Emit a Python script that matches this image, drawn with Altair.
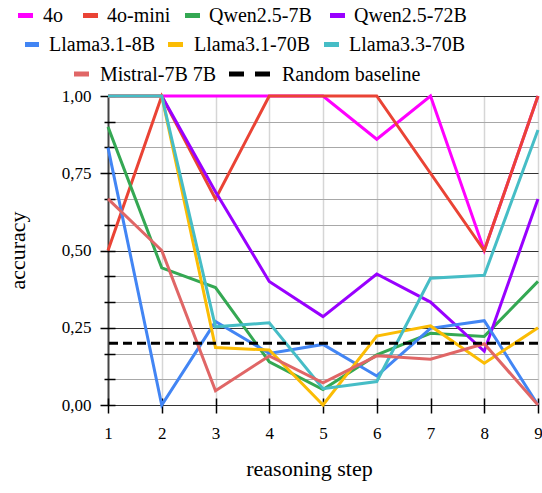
import altair as alt
import pandas as pd

steps = [1, 2, 3, 4, 5, 6, 7, 8, 9]

models = ["4o", "4o-mini", "Qwen2.5-7B", "Qwen2.5-72B",
          "Llama3.1-8B", "Llama3.1-70B", "Llama3.3-70B", "Mistral-7B 7B"]
colors = ["#FF00FF", "#EA4335", "#34A853", "#9900FF",
          "#4285F4", "#FBBC04", "#46BDC6", "#E06666"]

acc_4o = [1.0, 1.0, 1.0, 1.0, 1.0, 0.86, 1.0, 0.5, 1.0]
acc_4o_mini = [0.5, 1.0, 0.667, 1.0, 1.0, 1.0, 0.75, 0.5, 1.0]
acc_qwen7 = [0.9, 0.444, 0.38, 0.14, 0.05, 0.162, 0.232, 0.222, 0.4]
acc_qwen72 = [1.0, 1.0, 0.69, 0.4, 0.286, 0.424, 0.333, 0.174, 0.667]
acc_llama8 = [0.833, 0.0, 0.27, 0.167, 0.196, 0.094, 0.248, 0.273, 0.0]
acc_llama70 = [1.0, 1.0, 0.186, 0.178, 0.0, 0.223, 0.256, 0.135, 0.25]
acc_llama33 = [1.0, 1.0, 0.253, 0.266, 0.053, 0.076, 0.41, 0.42, 0.89]
acc_mistral = [0.667, 0.5, 0.046, 0.159, 0.072, 0.159, 0.148, 0.198, 0.0]
series = [acc_4o, acc_4o_mini, acc_qwen7, acc_qwen72,
          acc_llama8, acc_llama70, acc_llama33, acc_mistral]

baseline_name = "Random baseline"
baseline_value = [0.2]

y_ticks = [i / 12 for i in range(13)]

FONT = "Liberation Serif"

major_test = "abs(datum.value*4 - round(datum.value*4)) < 0.000001"

x_axis = alt.Axis(
    values=steps,
    format="d",
    title="reasoning step",
    titleFont=FONT,
    titleFontSize=22,
    titleFontWeight="normal",
    titleColor="black",
    titleBaseline="alphabetic",
    titleX=201,
    titleY=77,
    titleAlign="center",
    labelFont=FONT,
    labelFontSize=17,
    labelColor="black",
    labelPadding=12,
    labelFlush=False,
    domain=False,
    offset=-7,
    tickSize=15,
    tickColor="black",
    tickWidth=1.5,
    grid=True,
    gridColor={"condition": {"test": "datum.value == 1", "value": "#444444"}, "value": "#d6d6d6"},
    gridWidth={"condition": {"test": "datum.value == 1", "value": 2}, "value": 1.5},
)

y_axis = alt.Axis(
    values=y_ticks,
    title="accuracy",
    titleFont=FONT,
    titleFontSize=22,
    titleFontWeight="normal",
    titleColor="black",
    titleBaseline="alphabetic",
    titleAngle=-90,
    titleX=-91,
    titleY=154,
    titleAlign="center",
    labelFont=FONT,
    labelFontSize=17,
    labelColor="black",
    labelPadding=9,
    labelExpr="(" + major_test + ") ? replace(format(datum.value, '.2f'), '.', ',') : ''",
    labelFlush=False,
    labelOverlap=False,
    domain=False,
    offset=-7,
    tickSize={"condition": {"test": major_test, "value": 15}, "value": 11},
    tickColor="black",
    tickWidth=1.5,
    grid=True,
    gridColor={"condition": {"test": major_test, "value": "#333333"}, "value": "#a8a8a8"},
    gridWidth=1.2,
)

xs = alt.Scale(domain=[1, 9], nice=False, zero=False)
ys = alt.Scale(domain=[0, 1], nice=False)
cs = alt.Scale(domain=models, range=colors)

layers = []
for name, vals in zip(models, series):
    df = pd.DataFrame({"model": name, "step": steps, "acc": vals})
    layers.append(
        alt.Chart(df).mark_line(strokeWidth=3).encode(
            x=alt.X("step:Q", scale=xs, axis=x_axis),
            y=alt.Y("acc:Q", scale=ys, axis=y_axis),
            color=alt.Color("model:N", scale=cs, legend=None),
        )
    )

dfb = pd.DataFrame({"name": [baseline_name], "acc": baseline_value})
layers.append(
    alt.Chart(dfb).mark_rule(strokeDash=[9, 5], strokeWidth=3, color="black").encode(
        y=alt.Y("acc:Q", scale=ys, axis=y_axis),
    )
)

# Legend layout (pixel offsets relative to the plot area), three centred rows
row_sym_y = [-80.5, -51.5, -22]
row_txt_y = [-74, -45, -15.5]
legend_layout = [
    # (label, row, symbol x1, symbol x2, text x)
    (models[0], 0, -90, -75, -65),
    (models[1], 0, -25, -10, -1),
    (models[2], 0, 77, 92, 101),
    (models[3], 0, 222, 237, 246),
    (models[4], 1, -83, -69, -59),
    (models[5], 1, 60, 75, 86),
    (models[6], 1, 216, 231, 241),
    (models[7], 2, -34, -19, -8),
    (baseline_name, 2, 121, 162, 174),
]
col_of = dict(zip(models, colors))
col_of[baseline_name] = "black"

for label, row, sx1, sx2, tx in legend_layout:
    ldf = pd.DataFrame({"label": [label]})
    dash = [15, 11] if label == baseline_name else [1, 0]
    layers.append(
        alt.Chart(ldf).mark_rule(strokeWidth=5, color=col_of[label], strokeDash=dash, strokeCap="butt").encode(
            x=alt.value(sx1), x2=alt.value(sx2), y=alt.value(row_sym_y[row])
        )
    )
    layers.append(
        alt.Chart(ldf).mark_text(align="left", baseline="alphabetic", font=FONT, fontSize=20, color="black").encode(
            x=alt.value(tx), y=alt.value(row_txt_y[row]), text="label:N"
        )
    )

chart = alt.layer(*layers).properties(
    width=430,
    height=309,
    autosize=alt.AutoSizeParams(type="none"),
    padding={"left": 108, "top": 96, "right": 4, "bottom": 88},
).configure(background="white", font=FONT).configure_view(stroke=None)

chart.save("out.html", embed_options={"renderer": "svg", "actions": False})
